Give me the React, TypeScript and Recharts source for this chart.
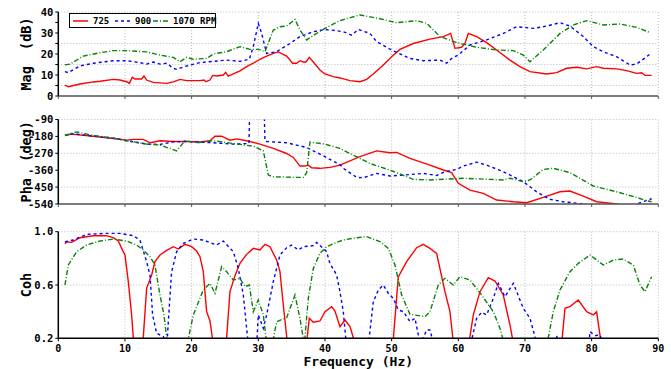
import { LineChart, Line, XAxis, YAxis, CartesianGrid, Legend, Label } from 'recharts';

type Pt = [number, number];

const freqTicks = [0, 10, 20, 30, 40, 50, 60, 70, 80, 90];
const magTicks = [0, 5, 10, 15, 20, 25, 30, 35, 40];
const phaTicks = [-540, -450, -360, -270, -180, -90];
const cohTicks = [0.2, 0.6, 1.0];

const seriesNames = ['725', '900', '1070 RPM'];

// magnitude (dB)
const mag725: Pt[] = [[1,5.2],[1.5,4.4],[3.25,5.7],[5.25,6.7],[6.25,7],[8.25,7.9],[9.25,7.6],[10.25,6.8],[10.65,6],[11.1,8.9],[11.5,8.1],[12.5,8.1],[12.85,9.5],[13.25,7.6],[14.25,6.5],[16.25,6],[17.25,6.7],[18.25,7.9],[19.25,7.3],[21.25,7.3],[21.85,7.6],[22.15,6.8],[22.75,7.6],[23.15,9.8],[23.75,9.5],[24.75,10],[25.1,11.3],[25.5,9.5],[26.25,10.5],[27.25,12],[28.25,14],[29.25,15.6],[30.25,17.5],[31.25,19],[32.25,20.3],[33,21],[34.25,19],[35.15,15.6],[35.75,15.6],[36.25,16.8],[36.75,16.2],[37.15,16.2],[37.65,18.4],[38.25,16.2],[39.25,12.4],[40,10.5],[41.25,9.2],[42.25,8.6],[43.75,7.3],[45.25,6.8],[46.25,7.9],[47.25,10.5],[48.75,14.8],[50,18.7],[51.25,22.2],[53.25,25],[55.75,27.1],[57.75,28.3],[58.85,29.8],[59.5,22.7],[60.5,23.2],[61,25],[61.5,29.8],[62.75,28.3],[64.25,25.4],[65.75,21.9],[67.75,17.1],[69.25,14],[70.75,11.6],[73.25,10.5],[74.75,11.1],[76.25,13.2],[77.75,13.7],[79.25,12.9],[80.75,14],[81.75,13.2],[83.75,12.9],[85.25,12.1],[86.75,10.8],[87.5,11.1],[88,9.8],[89,9.8]];
const mag900: Pt[] = [[1,11.6],[1.5,11.1],[3.25,14.3],[5.25,15.6],[8.25,16.8],[10.25,16.8],[12.25,15.9],[13.25,15.2],[14.25,16.2],[15.25,15.2],[16.25,15.6],[17.25,13.2],[17.75,12.7],[19.25,14.3],[21.25,15.9],[23.25,16.5],[25.25,17.1],[27.25,16.5],[28.65,17.5],[29.25,23.5],[30,34.6],[30.5,29.8],[31.25,20.3],[32.75,21.1],[34.75,25],[36.25,28.3],[38.25,30.6],[40,31.7],[41.5,31.2],[42.75,30.6],[44,29],[45,31.7],[46.75,29.8],[47.75,25.9],[50,21.9],[52.75,17.9],[54.75,16.8],[57.25,17.1],[58.25,15.6],[59,17.9],[60,19.5],[61.75,24.3],[64.25,26.7],[66.75,29.8],[68.75,33],[71.25,32.2],[73.25,33.3],[75.25,34.9],[76.75,33.3],[78.75,28.3],[80.25,23.5],[81.75,21.1],[83.75,18.7],[85.75,14.8],[86.75,15.2],[88.25,18.7],[89,20.6]];
const mag1070: Pt[] = [[1,14.8],[1.75,15.2],[3.75,19],[6.25,20.6],[8.25,21.6],[10.25,21.6],[13.25,21],[15.25,19.5],[17.25,18.4],[18.25,16.3],[19.25,18.4],[20.25,17.5],[22.25,17.9],[23.25,20],[25.25,21.1],[27.25,23.5],[28.75,22.2],[30,22.2],[31,21.1],[32.25,31.4],[33.25,33],[34.25,33.3],[35.5,36.5],[36.25,31.4],[37.25,26.7],[38.75,29.8],[40,32.2],[42.25,35.9],[45.25,38.6],[48.25,36.8],[50.75,34.9],[53.75,35.9],[55.25,34.6],[57.25,28.3],[59.75,25.4],[62.75,23.2],[65.75,21.9],[68.25,21.6],[69.75,19.5],[70.75,16.3],[72.75,21.9],[75.25,29.8],[77.25,33.8],[79.25,35.9],[81.75,33.8],[84.25,34.3],[86.75,32.7],[88.75,30.2]];

// phase (deg)
const pha725: Pt[] = [[1,-175],[2,-168],[5.25,-179],[8.25,-191],[10.25,-200],[11.25,-196],[12.75,-196],[13.75,-214],[15.25,-203],[17.25,-207],[19.25,-207],[21.25,-210],[22.75,-203],[23.5,-179],[24.5,-179],[25.75,-200],[26.75,-193],[28.25,-203],[30.25,-221],[32.25,-244],[34.25,-271],[35.25,-292],[36.25,-338],[37,-338],[37.5,-333],[38,-347],[39.25,-350],[40.75,-345],[42.25,-333],[45.25,-288],[47.75,-257],[49.75,-267],[50.75,-265],[52.75,-297],[55.75,-333],[57.75,-359],[59,-373],[60,-430],[61.75,-466],[63.75,-483],[65.75,-519],[68.25,-528],[70.25,-533],[72.75,-505],[75.25,-475],[76.75,-471],[78.75,-498],[80.75,-528],[83.75,-540],[85,-552]];
const pha900: Pt[] = [[1,-175],[1.75,-164],[5.25,-179],[8.25,-189],[10.25,-203],[13.25,-221],[15.25,-223],[17.25,-209],[19.25,-207],[21.25,-210],[23.25,-214],[26.25,-221],[28.6,-218],[28.7,-60],[30.9,-60],[31,-203],[31.25,-207],[34.25,-214],[37.25,-239],[40,-288],[40.75,-303],[42.25,-330],[42.75,-350],[44.75,-398],[45.75,-400],[47.75,-377],[49.75,-391],[51.75,-386],[54.75,-377],[56.75,-388],[58,-368],[59.75,-356],[60.75,-338],[62.75,-317],[64.25,-333],[66.75,-368],[69.75,-421],[71.75,-475],[73.75,-515],[75.75,-528],[78.75,-540],[80.75,-556],[86,-556],[86.75,-540],[89,-512]];
const pha1070: Pt[] = [[1,-175],[2.75,-156],[5.25,-175],[8.25,-189],[10.25,-203],[13.25,-221],[15.25,-226],[17.75,-257],[19,-203],[20.75,-214],[23.25,-203],[26.25,-218],[29.25,-232],[30.75,-257],[31.5,-386],[32.25,-395],[35.25,-398],[36.75,-398],[37.25,-373],[37.75,-210],[40,-221],[42.25,-244],[43.75,-271],[46.75,-324],[50,-363],[53.25,-409],[55.75,-412],[60.75,-403],[66.75,-412],[67.75,-403],[69.75,-421],[70.75,-412],[72.75,-356],[74.25,-350],[76.75,-373],[80.25,-444],[83.75,-475],[86.75,-505],[88.25,-523],[89,-528]];

// coherence
const coh725: Pt[] = [[1,0.91],[1.25,0.925],[2,0.92],[3.25,0.955],[5.25,0.97],[7.25,0.97],[8.25,0.955],[9,0.93],[9.65,0.86],[10,0.825],[10.5,0.625],[11,0.375],[11.4,0.1],[12.6,0.1],[13.25,0.575],[14,0.675],[14.5,0.775],[15.25,0.825],[16.25,0.86],[17.25,0.8875],[18,0.87],[19,0.905],[20,0.8875],[20.75,0.855],[21.25,0.8125],[21.75,0.7],[22.25,0.4],[22.75,0.33],[23.4,0.1],[25.1,0.1],[25.75,0.55],[26.5,0.67],[27.25,0.7625],[28.25,0.83],[29.25,0.875],[30.25,0.8625],[31,0.905],[31.75,0.8875],[32.75,0.7875],[33.25,0.7],[33.75,0.45],[34.5,0.1],[37.1,0.1],[37.65,0.35],[38.25,0.32],[39.25,0.33],[40,0.4],[41,0.4375],[41.5,0.405],[42.25,0.2875],[43,0.3375],[43.75,0.2875],[44.9,0.1],[50.1,0.1],[51,0.66],[52.25,0.775],[53.75,0.88],[54.75,0.905],[55.75,0.875],[56.75,0.8375],[58,0.55],[58.75,0.4],[59.4,0.1],[61.4,0.1],[62.25,0.375],[63.25,0.55],[64.5,0.655],[65.5,0.63],[66.75,0.525],[67.75,0.3],[68.5,0.1],[75.4,0.1],[76,0.425],[76.75,0.4375],[78,0.4875],[79.25,0.4],[80.25,0.375],[80.75,0.4],[81.6,0.1]];
const coh900: Pt[] = [[1,0.925],[2.25,0.9375],[4.25,0.98],[7.25,0.9875],[9.25,0.9875],[11.25,0.97],[12.25,0.9375],[13.25,0.775],[13.75,0.675],[14.15,0.375],[14.75,0.2375],[15.75,0.2125],[16.3,0.15],[16.5,0.325],[17,0.7],[17.75,0.85],[18.75,0.9125],[20.25,0.945],[21.75,0.9375],[23.75,0.9],[24.75,0.93],[26.25,0.85],[27,0.725],[27.75,0.525],[28.6,0.1],[29.7,0.1],[30,0.375],[30.75,0.275],[31.25,0.375],[32.25,0.625],[33.25,0.825],[34.25,0.88],[35,0.9],[36,0.8625],[36.75,0.8875],[38.25,0.895],[38.75,0.92],[40.25,0.85],[40.75,0.76],[41.25,0.72],[41.75,0.675],[42.25,0.55],[42.75,0.4],[43.3,0.1],[46.4,0.1],[47.25,0.475],[48,0.5625],[48.75,0.6],[49.5,0.5375],[50.25,0.5],[51,0.4125],[51.75,0.4],[52.75,0.325],[53.5,0.35],[54.3,0.15],[55.25,0.2625],[55.75,0.2625],[56.6,0.1],[61.6,0.1],[62.75,0.35],[63.5,0.395],[64.25,0.375],[65.25,0.5],[66,0.6125],[67,0.5125],[68.25,0.6125],[69.75,0.425],[70.75,0.35],[72.1,0.1],[74.4,0.15],[74.75,0.22],[75.1,0.15],[79.5,0.1],[79.75,0.25],[80.5,0.22],[81.25,0.225],[82.1,0.1]];
const coh1070: Pt[] = [[1,0.6],[1.5,0.75],[2.75,0.85],[4.25,0.9],[6.25,0.93],[8.25,0.945],[10.25,0.93],[11.75,0.9],[12.75,0.8625],[13.75,0.8125],[14.5,0.75],[15.25,0.525],[15.85,0.375],[16.5,0.1],[19.1,0.1],[20.25,0.375],[21.25,0.5],[21.75,0.5625],[22.75,0.6125],[23.5,0.5375],[24.5,0.7375],[25.25,0.7],[26.25,0.6375],[27.25,0.65],[28,0.5875],[28.65,0.6],[29.25,0.4],[30,0.4875],[30.75,0.375],[31.4,0.1],[31.9,0.1],[32.75,0.325],[34.25,0.355],[35.5,0.525],[36.25,0.35],[36.9,0.15],[37.5,0.5],[38.25,0.725],[39.25,0.8375],[40.25,0.8875],[41.75,0.92],[42.75,0.9375],[44.75,0.955],[46.25,0.9625],[48.25,0.925],[49.5,0.875],[50.5,0.75],[51.5,0.525],[52.75,0.38],[55,0.3625],[55.75,0.4],[57,0.6],[58,0.65],[59.25,0.6],[60.25,0.6625],[61.75,0.6375],[63.5,0.525],[65.25,0.4],[66.25,0.275],[67.2,0.1],[73.1,0.1],[74.25,0.4],[75.25,0.5625],[76.75,0.7],[78,0.7625],[79.75,0.825],[80.75,0.7875],[81.75,0.75],[83.25,0.7875],[84.75,0.795],[86.25,0.75],[87.25,0.6],[88,0.55],[89,0.6625]];

const FONT = '"DejaVu Sans Mono", "Liberation Mono", monospace';
const W = 671;
const PLOT_LEFT = 58.3;
const PLOT_RIGHT = 658.3;

const styles = [
  { color: '#ff0000', dash: undefined as string | undefined },
  { color: '#0000ff', dash: '3 3' },
  { color: '#0a820a', dash: '5 2 1 2' },
];

const toPts = (arr: Pt[]) => arr.map(([f, v]) => ({ f, v }));

function LegendBox() {
  return (
    <div style={{ border: '1px solid #000', background: '#fff', height: 15, width: 147, boxSizing: 'border-box' }}>
      <svg width={147} height={15} style={{ display: 'block' }}>
        {seriesNames.map((name, i) => {
          const x0 = [3, 45, 83][i];
          return (
            <g key={name}>
              <line x1={x0} x2={x0 + 15} y1={7} y2={7} stroke={styles[i].color} strokeWidth={1.5} strokeDasharray={styles[i].dash} />
              <text x={x0 + 20} y={7} dominantBaseline="central" fontFamily={FONT} fontWeight="bold" fontSize={9}>{name}</text>
            </g>
          );
        })}
      </svg>
    </div>
  );
}

interface PanelProps {
  top: number;
  marginTop: number;
  plotH: number;
  xH: number;
  domain: [number, number];
  ticks: number[];
  fmt: (v: number) => string;
  title: string;
  data: Pt[][];
  bottom?: boolean;
  legend?: boolean;
  xAxisColor: string;
}

function Panel({ top, marginTop, plotH, xH, domain, ticks, fmt, title, data, bottom, legend, xAxisColor }: PanelProps) {
  const h = marginTop + plotH + xH;
  const cy = marginTop + plotH / 2;
  return (
    <div style={{ position: 'absolute', left: 0, top }}>
      <LineChart width={W} height={h} margin={{ top: marginTop, right: W - PLOT_RIGHT, left: 0, bottom: 0 }}>
        <CartesianGrid stroke="#b8b8b8" strokeDasharray="1 2" />
        <XAxis
          type="number"
          dataKey="f"
          domain={[0, 90]}
          ticks={freqTicks}
          height={xH}
          tickSize={3}
          tickMargin={4}
          tickFormatter={(v: number) => (bottom ? String(v) : '')}
          tick={{ fontFamily: FONT, fontWeight: 'bold', fontSize: 10, fill: '#000' }}
          axisLine={{ stroke: xAxisColor, strokeWidth: 1.5 }}
          tickLine={{ stroke: xAxisColor }}
        >
          {bottom && (
            <Label
              content={() => (
                <text x={(PLOT_LEFT + PLOT_RIGHT) / 2} y={marginTop + plotH + 23} textAnchor="middle" dominantBaseline="central" fontFamily={FONT} fontWeight="bold" fontSize={13}>
                  Frequency (Hz)
                </text>
              )}
            />
          )}
        </XAxis>
        <YAxis
          type="number"
          dataKey="v"
          domain={domain}
          ticks={ticks}
          allowDataOverflow
          width={PLOT_LEFT}
          tickSize={3}
          tickMargin={2}
          tickFormatter={fmt}
          tick={{ fontFamily: FONT, fontWeight: 'bold', fontSize: 10.5, fill: '#000' }}
          axisLine={{ stroke: '#000', strokeWidth: 1.5 }}
          tickLine={{ stroke: '#000' }}
        >
          <Label
            content={() => (
              <text x={26} y={cy} transform={`rotate(-90 26 ${cy})`} textAnchor="middle" dominantBaseline="central" fontFamily={FONT} fontWeight="bold" fontSize={13.5} style={{ whiteSpace: 'pre' }}>
                {title}
              </text>
            )}
          />
        </YAxis>
        {data.map((d, i) => (
          <Line
            key={seriesNames[i]}
            name={seriesNames[i]}
            data={toPts(d)}
            dataKey="v"
            type="linear"
            stroke={styles[i].color}
            strokeWidth={1.4}
            strokeDasharray={styles[i].dash}
            dot={false}
            isAnimationActive={false}
          />
        ))}
        {legend && (
          <Legend
            layout="horizontal"
            verticalAlign="middle"
            align="center"
            wrapperStyle={{ top: 13, left: 69, width: 150, height: 17 }}
            content={() => <LegendBox />}
          />
        )}
      </LineChart>
    </div>
  );
}

export default function App() {
  return (
    <div style={{ position: 'absolute', left: 0, top: 0, width: W, height: 369, background: '#fff' }}>
      <Panel
        top={0}
        marginTop={12}
        plotH={84}
        xH={8}
        domain={[0, 40]}
        ticks={magTicks}
        fmt={(v) => (v % 10 === 0 ? String(v) : '')}
        title="Mag  (dB)"
        data={[mag725, mag900, mag1070]}
        legend
        xAxisColor="#555"
      />
      <Panel
        top={108}
        marginTop={11.5}
        plotH={84.5}
        xH={8}
        domain={[-540, -90]}
        ticks={phaTicks}
        fmt={(v) => String(v)}
        title="Pha  (deg)"
        data={[pha725, pha900, pha1070]}
        xAxisColor="#555"
      />
      <Panel
        top={222}
        marginTop={9.7}
        plotH={106.6}
        xH={30.7}
        domain={[0.2, 1.0]}
        ticks={cohTicks}
        fmt={(v) => v.toFixed(1)}
        title="Coh"
        data={[coh725, coh900, coh1070]}
        bottom
        xAxisColor="#000"
      />
    </div>
  );
}
